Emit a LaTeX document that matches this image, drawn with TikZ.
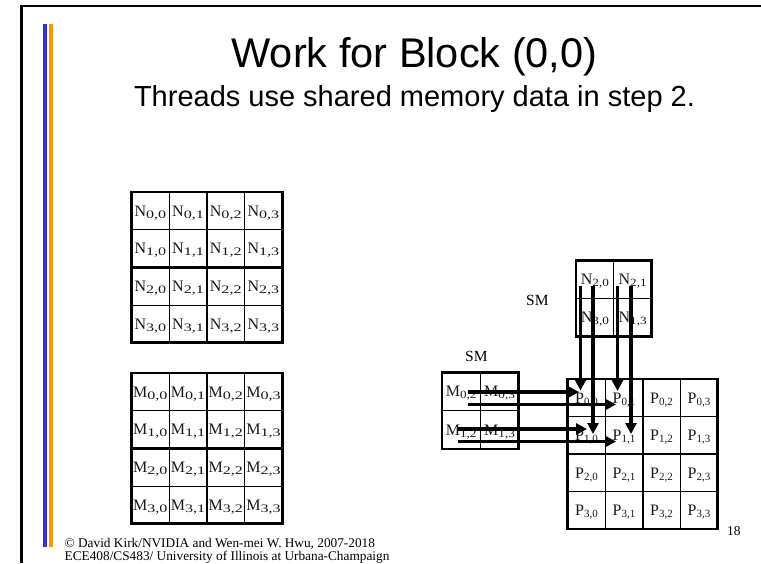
\documentclass[tikz,border=0pt]{standalone}
\usepackage{fontspec}
\usepackage{graphicx}
\setmainfont{Liberation Serif}
\newfontfamily\headfont{Liberation Sans}
\usetikzlibrary{arrows.meta,calc}

\definecolor{barblue}{RGB}{51,51,204}
\definecolor{barorange}{RGB}{255,153,0}
\definecolor{inkgray}{RGB}{25,25,25}

% letter with a lowered, optionally widened index pair
\newcommand{\cellsub}[4]{#1\raisebox{-2pt}{\fontsize{#3}{#3}\selectfont\scalebox{#4}[1]{#2}}}

% 4x4 matrix of labelled cells: name, letter, left, top, cell size, index size, index stretch
\newcommand{\matgrid}[7]{%
  \foreach \r in {0,...,3}{%
    \foreach \c in {0,...,3}{%
      \node[cell, minimum width=#5pt, minimum height=#5pt] (#1-\r-\c)
        at ({#3+(\c+0.5)*#5},{#4+(\r+0.5)*#5}) {\cellsub{#2}{\r,\c}{#6}{#7}};
    }%
  }%
  \draw[outerline] (#1-0-0.north west) rectangle (#1-3-3.south east);
  \draw[midline] (#1-0-2.north west) -- (#1-3-2.south west);
  \draw[midline] (#1-2-0.north west) -- (#1-2-3.north east);
}

\begin{document}
\begin{tikzpicture}[x=1pt,y=-1pt,
  cell/.style={draw=black, line width=0.9pt, inner sep=0pt, outer sep=0pt,
    text height=10.5pt, text depth=0pt, text=inkgray,
    font=\fontsize{16}{16}\selectfont},
  outerline/.style={line width=2.8pt, line join=miter},
  midline/.style={line width=2.4pt},
  conn/.style={line width=3.2pt, -{Triangle[length=11pt,width=11pt]}},
  smlabel/.style={font=\fontsize{15.5}{16}\selectfont, inner sep=0pt, anchor=base west},
  footer/.style={font=\fontsize{13.3}{14}\selectfont, inner sep=0pt, anchor=base west}]

\useasboundingbox (0,0) rectangle (761,563);
\fill[white] (0,0) rectangle (761,563);

% slide frame and side bars
\draw[line width=2.6pt] (21.3,563) |- (761,6);
\fill[barblue] (42.7,24) rectangle (46.7,547);
\fill[barorange] (49.3,24) rectangle (53.3,547);

% headings
\node[anchor=base, inner sep=0pt] (title) at (414.5,67)
  {\headfont\fontsize{41.5}{48}\selectfont Work for Block (0,0)};
\node[anchor=base, inner sep=0pt] (subtitle) at (414.5,106.5)
  {\headfont\fontsize{29}{34}\selectfont Threads use shared memory data in step 2.};

% full input matrices
\matgrid{N}{N}{131.5}{192}{37.7}{11.5}{1.4}
\matgrid{M}{M}{131.5}{373}{37.7}{11.5}{1.4}

% output matrix
\matgrid{P}{P}{567.7}{379}{37.5}{11}{1}

% shared-memory tile of N
\begin{scope}[every node/.append style={minimum width=37.8pt, minimum height=38pt}]
  \node[cell] (Nt-a) at (594.9,279.3) {\cellsub{N}{2,0}{11}{1.2}};
  \node[cell] (Nt-b) at (632.7,279.3) {\cellsub{N}{2,1}{11}{1.2}};
  \node[cell] (Nt-c) at (594.9,317.3) {\cellsub{N}{3,0}{11}{1.2}};
  \node[cell] (Nt-d) at (632.7,317.3) {\cellsub{N}{1,3}{11}{1.2}};
\end{scope}
\draw[outerline] (Nt-a.north west) rectangle (Nt-d.south east);

% shared-memory tile of M
\begin{scope}[every node/.append style={minimum width=38.4pt, minimum height=38.2pt}]
  \node[cell] (Mt-a) at (461.2,391.6) {\cellsub{M}{0,2}{11}{1.2}};
  \node[cell] (Mt-b) at (499.6,391.6) {\cellsub{M}{0,3}{11}{1.2}};
  \node[cell] (Mt-c) at (461.2,429.8) {\cellsub{M}{1,2}{11}{1.2}};
  \node[cell] (Mt-d) at (499.6,429.8) {\cellsub{M}{1,3}{11}{1.2}};
\end{scope}
\draw[outerline] (Mt-a.north west) rectangle (Mt-d.south east);

\node[smlabel] (smN) at (526,305.5) {SM};
\node[smlabel] (smM) at (465,361.5) {SM};

% arrow end points
\coordinate (h1s) at (468,392);   \coordinate (h1e) at (579,392);
\coordinate (h2s) at (468,404.5); \coordinate (h2e) at (616,404.5);
\coordinate (h3s) at (458,429);   \coordinate (h3e) at (587,429);
\coordinate (h4s) at (458,441.5); \coordinate (h4e) at (616,441.5);
\coordinate (v1s) at (580.5,286); \coordinate (v1e) at (580.5,390.5);
\coordinate (v2s) at (593,286);   \coordinate (v2e) at (593,434);
\coordinate (v3s) at (617.5,286); \coordinate (v3e) at (617.5,391);
\coordinate (v4s) at (631,286);   \coordinate (v4e) at (631,434);

% rows of the M tile feeding the output
\draw[conn] (h1s) -- (h1e);
\draw[conn] (h2s) -- (h2e);
\draw[conn] (h3s) -- (h3e);
\draw[conn] (h4s) -- (h4e);
% columns of the N tile feeding the output
\draw[conn] (v1s) -- (v1e);
\draw[conn] (v2s) -- (v2e);
\draw[conn] (v3s) -- (v3e);
\draw[conn] (v4s) -- (v4e);

% footer
\node[footer] (credit) at (64.5,547.5) {© David Kirk/NVIDIA and Wen-mei W. Hwu, 2007-2018};
\node[footer] (course) at (64.5,560) {ECE408/CS483/ University of Illinois at Urbana-Champaign};
\node[footer, font=\fontsize{13.5}{14}\selectfont] (pagenum) at (727,535) {18};
\end{tikzpicture}
\end{document}
